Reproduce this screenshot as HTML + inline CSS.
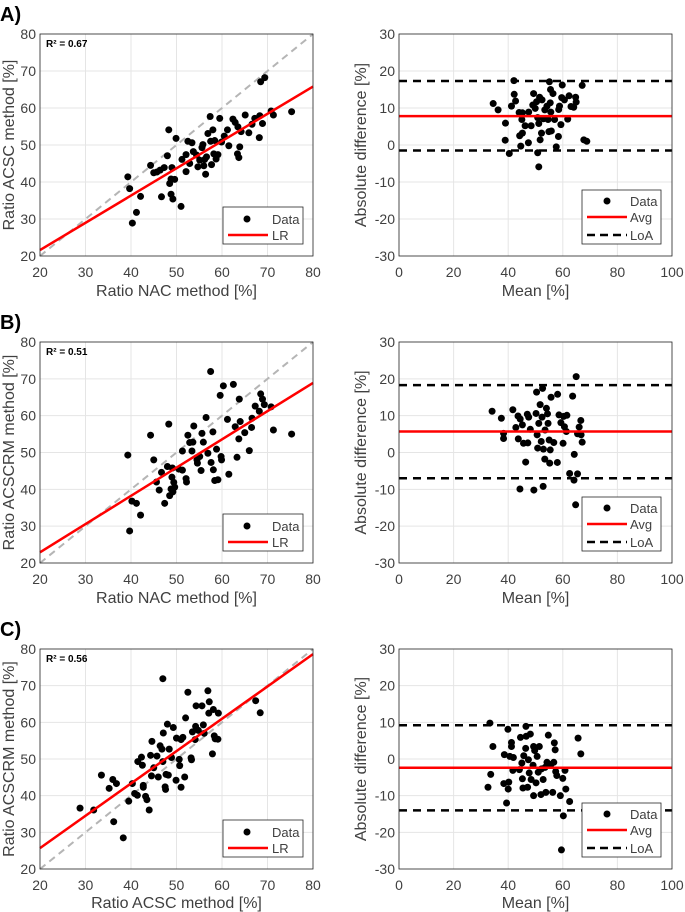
<!DOCTYPE html>
<html><head><meta charset="utf-8"><style>
html,body{margin:0;padding:0;background:#fff;}
svg{display:block;font-family:"Liberation Sans",sans-serif;}
</style></head><body>
<svg id="fig" width="685" height="912" viewBox="0 0 685 912" xmlns="http://www.w3.org/2000/svg"></svg>
<script>
// ---- Data ----
const aScatterX=[39.3,39.7,40.3,41.2,42.1,44.3,45.0,45.7,46.4,46.7,47.3,48.0,48.3,48.5,48.8,49.0,49.2,48.8,49.6,49.9,51.0,51.2,52.1,52.1,52.5,53.4,52.9,53.7,54.4,54.7,55.1,55.6,55.8,56.0,56.2,56.4,56.6,56.9,57.4,57.5,57.7,58.0,58.2,58.4,58.7,59.1,59.5,59.9,60.5,61.2,61.5,62.4,62.9,63.5,63.4,63.7,63.9,64.2,65.1,65.9,66.6,67.2,68.2,68.3,68.5,69.4,68.9,70.8,71.3,75.3];
const aScatterY=[41.4,38.2,28.9,31.8,36.1,44.5,42.5,42.7,43.2,36.0,43.9,47.1,54.1,39.6,36.7,43.9,35.4,40.8,40.7,51.8,33.4,46.1,42.8,47.4,51.0,50.6,45.0,48.2,47.3,44.1,45.9,49.3,50.1,44.4,46.1,42.1,46.8,53.1,57.7,51.0,44.7,54.1,47.6,51.2,46.2,47.4,57.2,50.8,52.4,54.1,49.8,57.0,56.1,54.9,47.6,46.6,49.5,53.6,58.1,53.3,55.6,57.2,52.0,57.9,67.1,68.2,55.8,59.2,58.1,59.0];
const aLR=[21.6,65.8]; // LR value at x=20 and x=80
const aBAx=[34.5,36.3,39.0,38.9,40.4,42.1,42.2,42.7,41.2,44.0,45.2,45.0,44.2,45.2,44.6,46.2,47.5,47.4,49.3,49.0,48.4,49.9,50.4,50.8,51.2,51.5,50.8,51.2,51.7,52.2,52.4,52.9,53.4,54.2,54.6,55.1,55.5,56.4,54.9,55.8,55.6,55.4,57.0,57.6,58.4,58.5,58.8,59.3,59.6,59.8,60.6,61.8,62.3,63.0,64.0,64.7,64.9,67.1,67.7,68.8];
const aBAy=[11.2,9.5,5.9,1.3,-2.3,17.4,13.7,11.9,10.5,8.8,8.7,6.9,2.5,3.2,-0.3,5.2,8.9,0.6,13.9,10.8,5.2,9.9,11.7,7.4,5.8,12.9,-2.1,-5.9,1.4,3.2,12.2,7.1,9.5,10.5,6.9,17.1,15.0,13.9,3.6,3.8,8.9,11.4,6.9,-0.5,2.3,9.6,10.5,5.5,12.8,16.2,12.2,7.0,13.3,10.4,10.2,12.9,11.6,16.1,1.4,1.0];
const aStats=[7.8,17.3,-1.5]; // avg, upper LoA, lower LoA

const bScatterX=[39.3,39.7,40.2,41.2,42.1,44.3,45.0,45.6,46.2,46.7,47.4,48.0,48.3,48.5,48.8,49.0,49.1,49.4,49.6,49.2,50.5,51.3,51.3,52.1,52.2,52.5,52.9,53.4,53.6,53.8,54.5,54.6,55.1,55.4,55.6,55.9,56.5,56.9,57.5,57.6,58.0,58.1,58.4,58.8,59.1,59.6,59.8,59.9,60.3,61.2,61.5,62.5,62.9,63.3,63.7,63.8,64.0,65.0,66.0,66.5,66.6,67.3,68.2,68.5,68.9,69.3,70.8,71.3,75.3];
const bScatterY=[49.3,28.7,36.8,36.2,33.0,54.7,48.0,42.0,39.8,44.6,36.2,46.2,57.7,38.3,40.1,43.3,45.8,41.9,40.6,39.3,45.5,50.4,45.2,42.9,42.0,54.7,52.7,50.4,52.8,57.2,48.0,47.1,48.9,45.1,55.2,52.8,59.5,49.8,72.0,47.3,55.6,45.3,42.4,50.9,42.6,65.5,48.9,48.0,68.1,59.0,44.1,68.5,57.0,48.7,53.7,64.5,58.4,55.4,50.5,56.8,59.3,62.6,61.2,65.9,64.5,63.0,62.4,56.1,55.0];
const bLR=[22.9,68.9];
const bBAx=[34.1,37.5,38.3,38.3,41.7,42.8,43.6,43.7,44.4,44.3,45.2,45.6,46.4,47.0,47.2,47.5,48.1,49.4,50.2,50.4,50.6,50.8,51.2,51.7,52.1,52.6,52.8,52.4,52.9,53.4,53.5,54.0,54.4,54.6,55.0,55.2,55.4,55.7,56.7,58.0,58.1,58.6,59.3,60.1,60.3,60.6,61.5,61.3,62.5,63.6,64.2,64.1,64.7,64.9,65.4,65.4,66.0,66.6,66.7,67.1];
const bBAy=[11.2,9.3,5.2,3.8,11.6,6.8,9.9,3.7,9.1,-9.9,7.5,2.5,-2.6,10.4,2.6,9.6,6.3,-10.2,10.6,16.4,4.8,1.2,7.9,13.0,3.0,17.4,-9.2,9.6,0.9,-1.8,6.1,12.0,10.5,7.9,3.4,-2.9,0.7,15.0,2.7,-2.7,15.8,10.2,8.1,2.5,9.8,7.0,10.1,5.7,-5.7,15.3,-0.5,-7.5,-14.2,20.6,-5.8,5.1,6.9,8.7,4.8,2.8];
const bStats=[5.7,18.3,-7.0];

const cScatterX=[28.8,31.8,33.5,35.2,36.0,36.2,36.8,38.3,39.5,40.3,40.8,41.4,41.5,42.3,42.5,42.7,42.7,43.2,43.5,44.0,44.3,44.5,44.6,45.0,45.7,46.0,46.4,46.8,47.0,47.1,47.0,47.5,47.6,47.7,48.0,48.2,48.4,48.9,49.3,49.9,50.0,50.6,50.7,51.0,51.0,51.4,51.8,52.0,52.5,53.2,53.3,53.5,54.1,54.2,54.3,54.8,55.6,55.9,56.1,56.9,57.2,57.1,57.9,58.1,58.3,58.5,59.2,59.1,67.4,68.4];
const cScatterY=[36.6,36.1,45.6,42.0,44.4,32.9,43.3,28.5,38.5,43.3,40.6,40.1,49.3,50.5,48.3,42.3,42.8,39.8,38.9,36.1,51.0,45.4,54.8,47.6,50.8,45.1,53.6,52.7,71.9,57.1,49.3,42.4,41.7,45.8,59.5,45.6,52.7,50.4,58.6,44.2,55.7,49.9,48.2,42.3,55.3,55.9,45.1,61.2,68.2,50.3,49.8,57.4,55.3,58.9,64.5,57.8,64.5,59.3,57.0,68.6,65.6,62.5,51.4,63.5,56.3,55.5,62.5,55.4,65.9,62.6];
const cLR=[25.7,78.6];
const cBAx=[32.6,33.3,33.6,34.4,38.4,38.6,39.4,39.9,40.0,40.2,40.6,41.2,41.2,41.7,41.9,44.1,44.5,45.0,45.2,45.4,45.7,46.4,46.5,46.6,47.1,47.4,47.7,48.1,48.4,49.1,49.3,49.3,49.7,50.2,50.6,51.0,51.4,52.0,52.2,52.8,53.5,53.8,54.2,54.7,55.6,56.3,56.7,56.9,57.2,57.4,57.8,59.1,59.5,60.0,60.2,60.8,61.1,62.5,65.6,66.6];
const cBAy=[-7.7,9.8,-4.2,3.4,-6.7,1.2,-12.0,8.1,-8.2,-6.3,0.7,4.5,3.4,-3.1,0.4,-2.9,5.9,-1.1,-5.4,-7.9,0.9,2.9,8.9,6.2,-7.7,-0.2,-3.8,6.8,-5.6,-1.7,3.4,-10.0,2.3,-6.5,0.7,-3.6,3.4,-9.7,-2.7,-5.6,-2.3,-9.1,-0.9,6.5,-1.5,-9.1,-0.9,4.4,2.5,-3.4,-4.5,-10.0,-24.8,-5.3,-15.5,-3.1,-8.2,-11.6,5.7,1.4];
const cStats=[-2.4,9.2,-14.0];

const scatterTicksX=[20,30,40,50,60,70,80];
const scatterTicksY=[20,30,40,50,60,70,80];
const baTicksX=[0,20,40,60,80,100];
const baTicksY=[-30,-20,-10,0,10,20,30];
const r2Labels=["R² = 0.67","R² = 0.51","R² = 0.56"];
const panelLetters=["A)","B)","C)"];
const xTitlesLeft=["Ratio NAC method [%]","Ratio NAC method [%]","Ratio ACSC method [%]"];
const yTitlesLeft=["Ratio ACSC method [%]","Ratio ACSCRM method [%]","Ratio ACSCRM method [%]"];

// ---- Drawing ----
const NS="http://www.w3.org/2000/svg";
const svg=document.getElementById('fig');
function mk(tag,attrs,parent,text){
  const e=document.createElementNS(NS,tag);
  for(const k in attrs) e.setAttribute(k,attrs[k]);
  if(text!==undefined) e.textContent=text;
  (parent||svg).appendChild(e);
  return e;
}
const rows=[{top:34,bot:256,tt:40},{top:342,bot:563,tt:40},{top:649,bot:869,tt:39}];
const L={x0:40,x1:313}, R={x0:399,x1:672};
const TXT='#404040';

function axes(g,box,xT,yT,xmin,xmax,ymin,ymax){
  const sx=v=>box.x0+(v-xmin)/(xmax-xmin)*(box.x1-box.x0);
  const sy=v=>box.bot-(v-ymin)/(ymax-ymin)*(box.bot-box.top);
  mk('rect',{x:box.x0,y:box.top,width:box.x1-box.x0,height:box.bot-box.top,fill:'#fff'},g);
  xT.forEach(t=>{
    const gl=mk('line',{x1:sx(t),x2:sx(t),y1:box.top,y2:box.bot,stroke:'#e5e5e5','stroke-width':1},g);
    
    
    const tl=mk('text',{x:sx(t),y:box.bot+21,'text-anchor':'middle','font-size':14,fill:TXT},g,String(t));
    
    
  });
  yT.forEach(t=>{
    const gl=mk('line',{x1:box.x0,x2:box.x1,y1:sy(t),y2:sy(t),stroke:'#e5e5e5','stroke-width':1},g);
    
    
    const tl=mk('text',{x:box.x0-4,y:sy(t)+5,'text-anchor':'end','font-size':14,fill:TXT},g,String(t));
    
    
  });
  return {sx,sy};
}
function frame(g,box){
  const f=mk('rect',{x:box.x0,y:box.top,width:box.x1-box.x0,height:box.bot-box.top,fill:'none',stroke:'#262626','stroke-width':0.8},g);
  
  
}
function dots(g,xs,ys,sx,sy){
  xs.forEach((x,i)=>{
    const c=mk('circle',{cx:sx(x),cy:sy(ys[i]),r:3.5,fill:'#000'},g);
    
    
  });
}

function scatterPanel(i,xs,ys,lr){
  const row=rows[i];
  const box={x0:L.x0,x1:L.x1,top:row.top,bot:row.bot};
  const g=mk('g',{});
  
  
  const {sx,sy}=axes(g,box,scatterTicksX,scatterTicksY,20,80,20,80);
  const id=mk('line',{x1:sx(20),y1:sy(20),x2:sx(80),y2:sy(80),stroke:'#b5b5b5','stroke-width':2,'stroke-dasharray':'7,5'},g);
  
  
  dots(g,xs,ys,sx,sy);
  const l=mk('line',{x1:sx(20),y1:sy(lr[0]),x2:sx(80),y2:sy(lr[1]),stroke:'#ff0000','stroke-width':2.5},g);
  
  
  frame(g,box);
  const r2=mk('text',{x:box.x0+6,y:box.top+13,'font-size':10,'font-weight':'bold',fill:'#000'},g,r2Labels[i]);
  
  
  const lg=mk('g',{},g);
  
  
  const lx=223, ly=box.bot-49;
  mk('rect',{x:lx,y:ly,width:80,height:37,fill:'#fff',stroke:'#262626','stroke-width':0.8},lg);
  mk('circle',{cx:lx+24,cy:ly+12,r:3.5,fill:'#000'},lg);
  mk('text',{x:lx+49,y:ly+17,'font-size':13,fill:TXT},lg,'Data');
  mk('line',{x1:lx+5,x2:lx+45,y1:ly+28,y2:ly+28,stroke:'#ff0000','stroke-width':2.5},lg);
  mk('text',{x:lx+49,y:ly+33,'font-size':13,fill:TXT},lg,'LR');
  const xt=mk('text',{x:(box.x0+box.x1)/2,y:box.bot+row.tt,'text-anchor':'middle','font-size':16,fill:TXT},g,xTitlesLeft[i]);
  
  
  const yc=(box.top+box.bot)/2;
  const yt=mk('text',{x:0,y:0,transform:`translate(14,${yc}) rotate(-90)`,'text-anchor':'middle','font-size':16,fill:TXT},g,yTitlesLeft[i]);
  
  
  const pl=mk('text',{x:0,y:row.top-13,'font-size':20,'font-weight':'bold',fill:'#000'},g,panelLetters[i]);
  
  
}

function baPanel(i,xs,ys,st){
  const row=rows[i];
  const box={x0:R.x0,x1:R.x1,top:row.top,bot:row.bot};
  const g=mk('g',{});
  
  
  const {sx,sy}=axes(g,box,baTicksX,baTicksY,0,100,-30,30);
  dots(g,xs,ys,sx,sy);
  const a=mk('line',{x1:sx(0),x2:sx(100),y1:sy(st[0]),y2:sy(st[0]),stroke:'#ff0000','stroke-width':2.5},g);
  
  
  [st[1],st[2]].forEach(v=>{
    const d=mk('line',{x1:sx(0),x2:sx(100),y1:sy(v),y2:sy(v),stroke:'#000','stroke-width':2.5,'stroke-dasharray':'8,6'},g);
    
    
  });
  frame(g,box);
  const lg=mk('g',{},g);
  
  
  const lx=582, ly=box.bot-66;
  mk('rect',{x:lx,y:ly,width:79,height:54,fill:'#fff',stroke:'#262626','stroke-width':0.8},lg);
  mk('circle',{cx:lx+25,cy:ly+11,r:3.5,fill:'#000'},lg);
  mk('text',{x:lx+48,y:ly+16,'font-size':13,fill:TXT},lg,'Data');
  mk('line',{x1:lx+5,x2:lx+45,y1:ly+27,y2:ly+27,stroke:'#ff0000','stroke-width':2.5},lg);
  mk('text',{x:lx+48,y:ly+32,'font-size':13,fill:TXT},lg,'Avg');
  mk('line',{x1:lx+5,x2:lx+45,y1:ly+45,y2:ly+45,stroke:'#000','stroke-width':2.5,'stroke-dasharray':'8,5'},lg);
  mk('text',{x:lx+48,y:ly+50,'font-size':13,fill:TXT},lg,'LoA');
  const xt=mk('text',{x:(box.x0+box.x1)/2,y:box.bot+row.tt,'text-anchor':'middle','font-size':16,fill:TXT},g,'Mean [%]');
  
  
  const yc=(box.top+box.bot)/2;
  const yt=mk('text',{x:0,y:0,transform:`translate(366,${yc}) rotate(-90)`,'text-anchor':'middle','font-size':16,fill:TXT},g,'Absolute difference [%]');
  
  
}

scatterPanel(0,aScatterX,aScatterY,aLR);
baPanel(0,aBAx,aBAy,aStats);
scatterPanel(1,bScatterX,bScatterY,bLR);
baPanel(1,bBAx,bBAy,bStats);
scatterPanel(2,cScatterX,cScatterY,cLR);
baPanel(2,cBAx,cBAy,cStats);
</script>
</body></html>
